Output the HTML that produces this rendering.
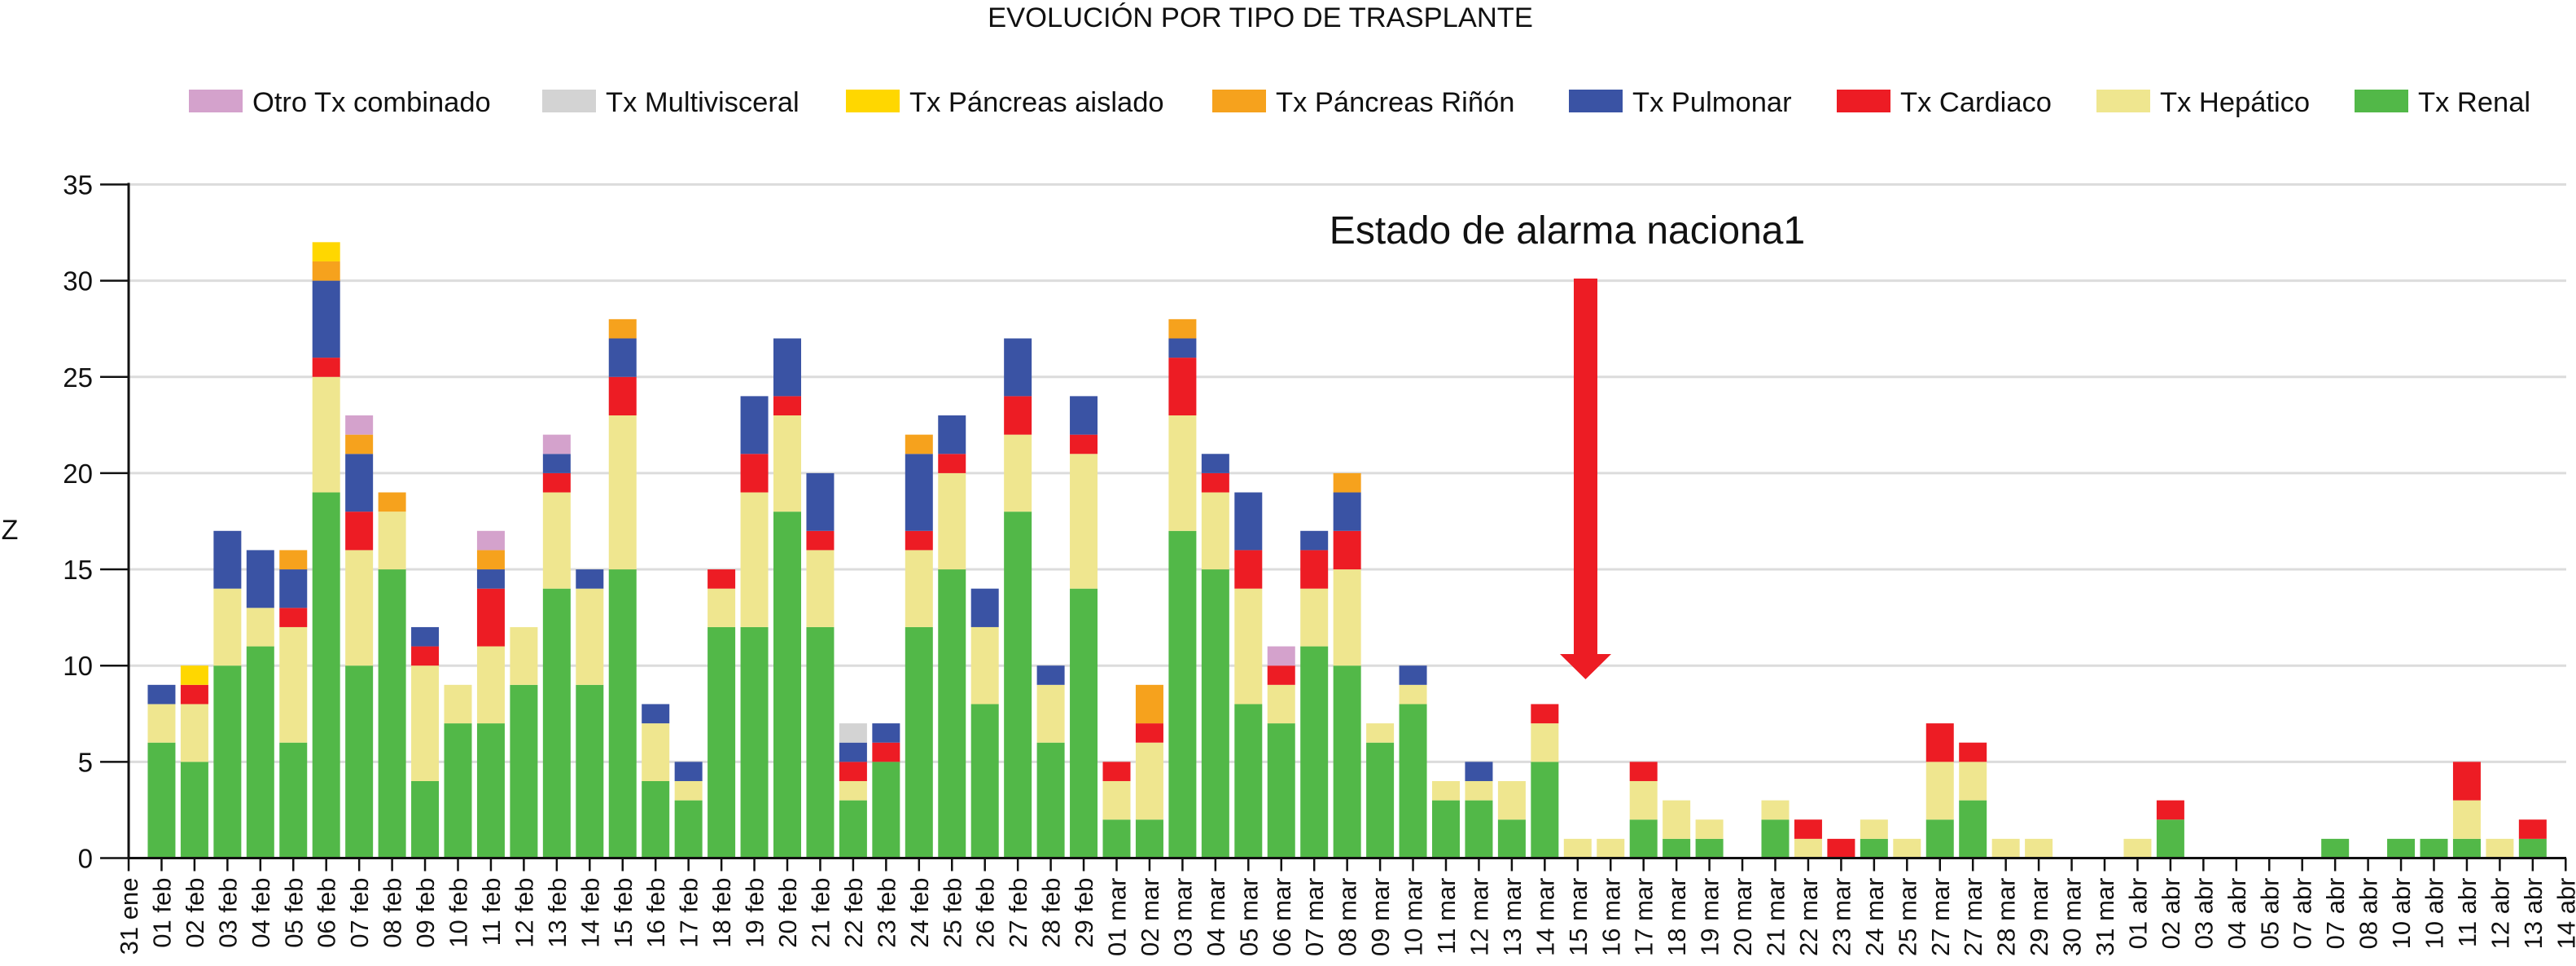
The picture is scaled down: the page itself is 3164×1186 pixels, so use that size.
<!DOCTYPE html>
<html><head><meta charset="utf-8">
<style>
html,body{margin:0;padding:0;background:#fff;}
svg{display:block;font-family:"Liberation Sans",Arial,sans-serif;}
</style></head>
<body>
<svg id="chart" width="3164" height="1186" viewBox="0 0 3164 1186" xmlns="http://www.w3.org/2000/svg">
<text x="1548" y="33" font-size="34.5" text-anchor="middle" fill="#111">EVOLUCIÓN POR TIPO DE TRASPLANTE</text>
<g id="legend"></g>
<g id="grid"></g>
<g id="bars"></g>
<g id="axes"></g>
<text x="12" y="662" font-size="34" text-anchor="middle" fill="#111">Z</text>
<text x="1925" y="299" font-size="48" text-anchor="middle" fill="#111">Estado de alarma naciona1</text>
<g>
<rect x="1933" y="342" width="29" height="465" fill="#ed1c24"/>
<polygon points="1916,803 1979,803 1947.5,834" fill="#ed1c24"/>
</g>
</svg>
<script>
const categories = ["31 ene","01 feb","02 feb","03 feb","04 feb","05 feb","06 feb","07 feb","08 feb","09 feb","10 feb","11 feb","12 feb","13 feb","14 feb","15 feb","16 feb","17 feb","18 feb","19 feb","20 feb","21 feb","22 feb","23 feb","24 feb","25 feb","26 feb","27 feb","28 feb","29 feb","01 mar","02 mar","03 mar","04 mar","05 mar","06 mar","07 mar","08 mar","09 mar","10 mar","11 mar","12 mar","13 mar","14 mar","15 mar","16 mar","17 mar","18 mar","19 mar","20 mar","21 mar","22 mar","23 mar","24 mar","25 mar","27 mar","27 mar","28 mar","29 mar","30 mar","31 mar","01 abr","02 abr","03 abr","04 abr","05 abr","07 abr","07 abr","08 abr","10 abr","10 abr","11 abr","12 abr","13 abr","14 abr"];
const renal =       [0,6,5,10,11,6,19,10,15,4,7,7,9,14,9,15,4,3,12,12,18,12,3,5,12,15,8,18,6,14,2,2,17,15,8,7,11,10,6,8,3,3,2,5,0,0,2,1,1,0,2,0,0,1,0,2,3,0,0,0,0,0,2,0,0,0,0,1,0,1,1,1,0,1,0];
const hepatico =    [0,2,3,4,2,6,6,6,3,6,2,4,3,5,5,8,3,1,2,7,5,4,1,0,4,5,4,4,3,7,2,4,6,4,6,2,3,5,1,1,1,1,2,2,1,1,2,2,1,0,1,1,0,1,1,3,2,1,1,0,0,1,0,0,0,0,0,0,0,0,0,2,1,0,0];
const cardiaco =    [0,0,1,0,0,1,1,2,0,1,0,3,0,1,0,2,0,0,1,2,1,1,1,1,1,1,0,2,0,1,1,1,3,1,2,1,2,2,0,0,0,0,0,1,0,0,1,0,0,0,0,1,1,0,0,2,1,0,0,0,0,0,1,0,0,0,0,0,0,0,0,2,0,1,0];
const pulmonar =    [0,1,0,3,3,2,4,3,0,1,0,1,0,1,1,2,1,1,0,3,3,3,1,1,4,2,2,3,1,2,0,0,1,1,3,0,1,2,0,1,0,1,0,0,0,0,0,0,0,0,0,0,0,0,0,0,0,0,0,0,0,0,0,0,0,0,0,0,0,0,0,0,0,0,0];
const pancRinon =   [0,0,0,0,0,1,1,1,1,0,0,1,0,0,0,1,0,0,0,0,0,0,0,0,1,0,0,0,0,0,0,2,1,0,0,0,0,1,0,0,0,0,0,0,0,0,0,0,0,0,0,0,0,0,0,0,0,0,0,0,0,0,0,0,0,0,0,0,0,0,0,0,0,0,0];
const pancAislado = [0,0,1,0,0,0,1,0,0,0,0,0,0,0,0,0,0,0,0,0,0,0,0,0,0,0,0,0,0,0,0,0,0,0,0,0,0,0,0,0,0,0,0,0,0,0,0,0,0,0,0,0,0,0,0,0,0,0,0,0,0,0,0,0,0,0,0,0,0,0,0,0,0,0,0];
const multivisc =   [0,0,0,0,0,0,0,0,0,0,0,0,0,0,0,0,0,0,0,0,0,0,1,0,0,0,0,0,0,0,0,0,0,0,0,0,0,0,0,0,0,0,0,0,0,0,0,0,0,0,0,0,0,0,0,0,0,0,0,0,0,0,0,0,0,0,0,0,0,0,0,0,0,0,0];
const otro =        [0,0,0,0,0,0,0,1,0,0,0,1,0,1,0,0,0,0,0,0,0,0,0,0,0,0,0,0,0,0,0,0,0,0,0,1,0,0,0,0,0,0,0,0,0,0,0,0,0,0,0,0,0,0,0,0,0,0,0,0,0,0,0,0,0,0,0,0,0,0,0,0,0,0,0];
const yTicks = [0,5,10,15,20,25,30,35];
const seriesNames = ["Tx Renal","Tx Hepático","Tx Cardiaco","Tx Pulmonar","Tx Páncreas Riñón","Tx Páncreas aislado","Tx Multivisceral","Otro Tx combinado"];
const seriesKeys = ["renal","hepatico","cardiaco","pulmonar","panc-rinon","panc-aislado","multivisceral","otro"];
const seriesColors = ["#52b848","#efe68f","#ed1c24","#3a53a4","#f6a21d","#ffd700","#d3d3d3","#d4a2cc"];
const seriesData = [renal,hepatico,cardiaco,pulmonar,pancRinon,pancAislado,multivisc,otro];

const NS = "http://www.w3.org/2000/svg";
const X0 = 158, STEP = 40.45, Y0 = 1053.5, UNIT = 23.63, BW = 34, XEND = 3152;
function xScale(i){ return X0 + i*STEP; }
function yScale(v){ return Y0 - v*UNIT; }
function mk(tag, attrs, parent){ const e=document.createElementNS(NS,tag); for(const k in attrs) e.setAttribute(k,attrs[k]); parent.appendChild(e); return e; }

const grid = document.getElementById('grid');
const axes = document.getElementById('axes');
const bars = document.getElementById('bars');
const legend = document.getElementById('legend');

yTicks.forEach(t=>{
  if(t>0){
    const g = mk('line',{x1:X0,x2:XEND,y1:yScale(t),y2:yScale(t),stroke:'#dcdcdc','stroke-width':3},grid);
    
    
  }
  const tk = mk('line',{x1:X0-35,x2:X0,y1:yScale(t),y2:yScale(t),stroke:'#111','stroke-width':2.5},axes);
  
  
  const tx = mk('text',{x:X0-44,y:yScale(t)+12,'font-size':33,'text-anchor':'end',fill:'#111'},axes);
  tx.textContent = t;
  
  
});

categories.forEach((c,i)=>{
  let base = 0;
  seriesData.forEach((arr,s)=>{
    const v = arr[i];
    if(v>0){
      const r = mk('rect',{x:xScale(i)-BW/2,y:yScale(base+v),width:BW,height:v*UNIT,fill:seriesColors[s]},bars);
      
      
      base += v;
    }
  });
  const tk = mk('line',{x1:xScale(i),x2:xScale(i),y1:Y0,y2:Y0+16,stroke:'#111','stroke-width':2.5},axes);
  
  
  const tx = mk('text',{transform:'translate('+(xScale(i)+11)+','+(Y0+24)+') rotate(-90)','font-size':31,'text-anchor':'end',fill:'#111'},axes);
  tx.textContent = c;
  
  
});

const ya = mk('line',{x1:X0,x2:X0,y1:yScale(35)-2,y2:Y0+1,stroke:'#111','stroke-width':3},axes);


const xa = mk('line',{x1:X0,x2:XEND,y1:Y0,y2:Y0,stroke:'#111','stroke-width':3},axes);



const legendOrder = [7,6,5,4,3,2,1,0];
const legendX = [232,666,1039,1489,1927,2256,2575,2892];
legendOrder.forEach((s,k)=>{
  const sw = mk('rect',{x:legendX[k],y:110,width:66,height:28,fill:seriesColors[s]},legend);
  
  
  const tx = mk('text',{x:legendX[k]+78,y:137,'font-size':34.5,fill:'#111'},legend);
  tx.textContent = seriesNames[s];
  
  
});
</script>
</body></html>
